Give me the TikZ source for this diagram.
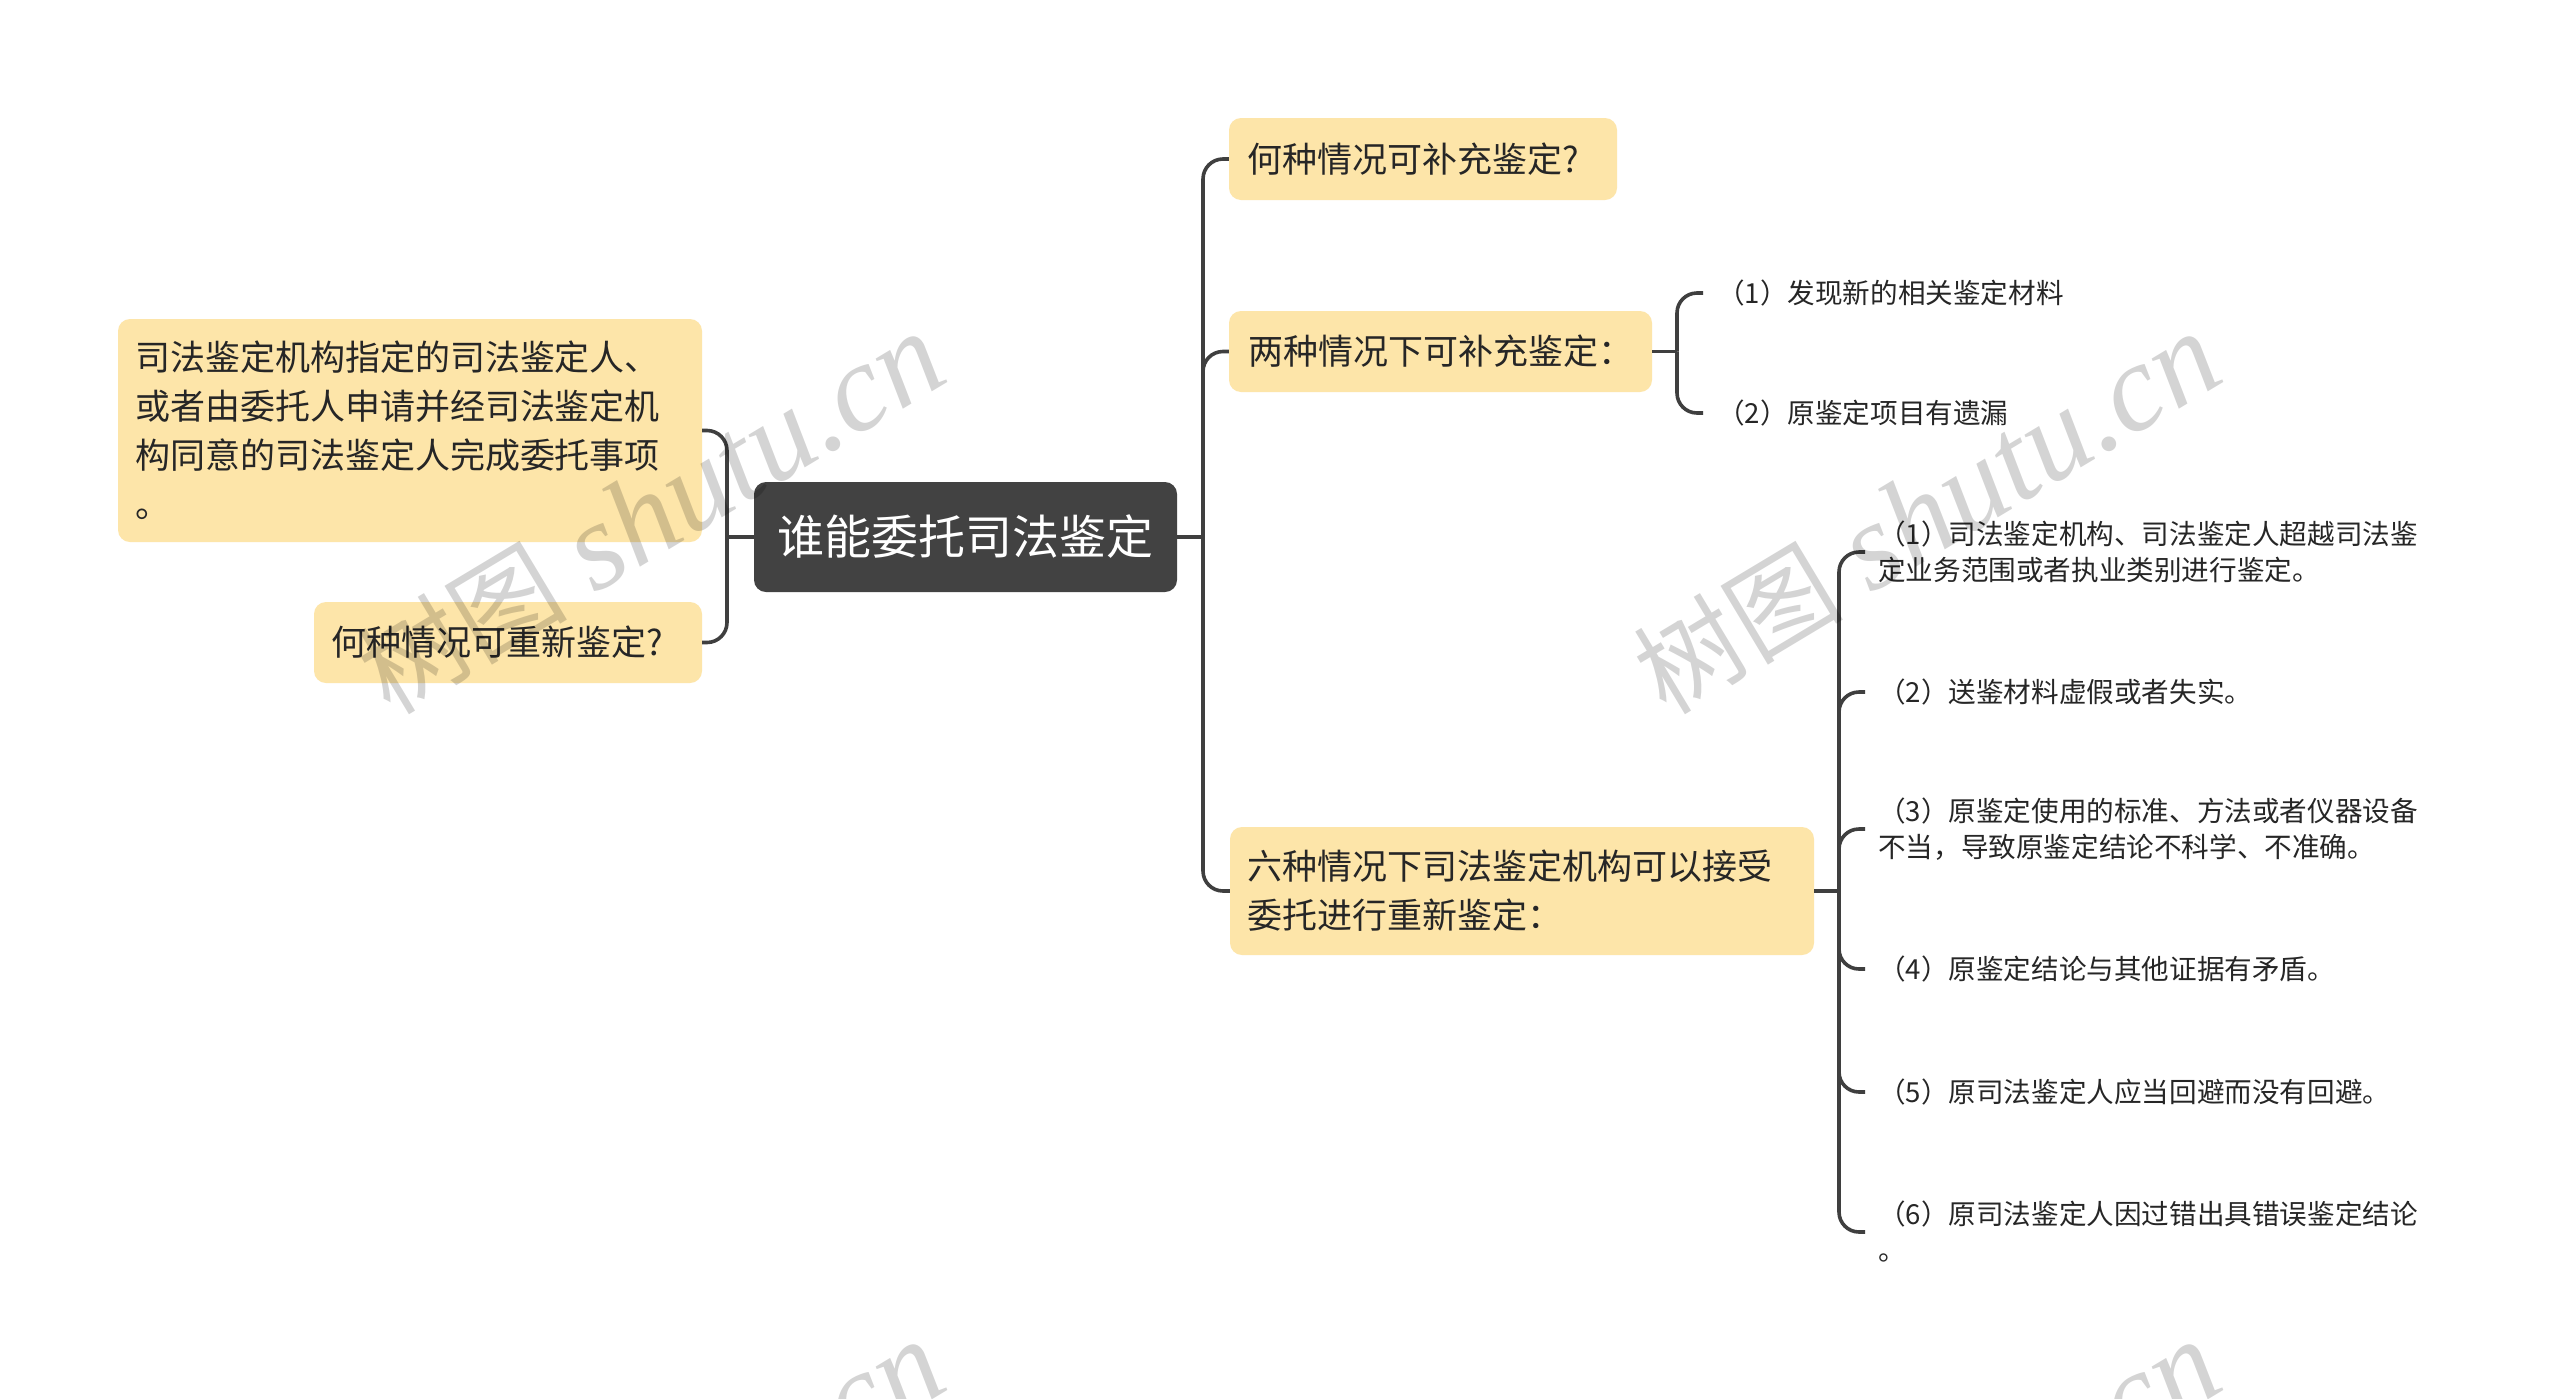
\documentclass[tikz,border=0pt]{standalone}
\usepackage{fontspec}
\setmainfont{Noto Sans CJK SC}
\newfontfamily\wmcjk{Noto Sans CJK SC}
\newfontfamily\wmlatin{Liberation Serif}
\definecolor{boxy}{HTML}{FDE5A9}
\definecolor{rootc}{HTML}{424242}
\definecolor{linec}{HTML}{3F3F3F}
\definecolor{txt}{HTML}{262626}
\tikzset{
  conn/.style={draw=linec, line width=3.6pt, rounded corners=20pt},
  topic/.style={fill=boxy, rounded corners=12pt, inner xsep=17pt, inner ysep=0pt,
    align=left, text=txt, font=\fontsize{35}{49}\selectfont},
  rootnode/.style={fill=rootc, rounded corners=12pt, text=white, inner sep=0pt,
    font=\fontsize{47}{56}\selectfont, minimum width=423pt, minimum height=110pt},
  leaf/.style={anchor=west, inner xsep=13pt, inner ysep=0pt, align=left, text=txt,
    font=\fontsize{27.6}{36}\selectfont},
  wm/.style={text=black, text opacity=0.17, rotate=31, inner sep=0pt}
}
\begin{document}
\begin{tikzpicture}[x=1pt,y=-1pt]
\fill[white] (0,0) rectangle (2560,1398);
\useasboundingbox (0,0) rectangle (2560,1398);

% root
\node[rootnode] (C) at (965.5,537) {谁能委托司法鉴定};

% left topics
\node[topic, text width=550pt, minimum height=223pt] (L1) at (410,430.5)
  {司法鉴定机构指定的司法鉴定人、\\或者由委托人申请并经司法鉴定机\\构同意的司法鉴定人完成委托事项\\。};
\node[topic, text width=354pt, minimum height=81pt] (L2) at (508,642.5) {何种情况可重新鉴定?};

% right topics
\node[topic, inner xsep=18pt, text width=352pt, minimum height=82pt] (R1) at (1423,159) {何种情况可补充鉴定?};
\node[topic, inner xsep=19pt, text width=385pt, minimum height=81pt] (R2) at (1440.5,351.5) {两种情况下可补充鉴定：};
\node[topic, text width=550pt, minimum height=128pt] (R3) at (1522,891)
  {六种情况下司法鉴定机构可以接受\\委托进行重新鉴定：};

% leaves of R2
\node[leaf, inner xsep=14pt] (a1) at (1703,293) {（1）发现新的相关鉴定材料};
\node[leaf, inner xsep=14pt] (a2) at (1703,413) {（2）原鉴定项目有遗漏};

% leaves of R3
\node[leaf] (c1) at (1865,552) {（1）司法鉴定机构、司法鉴定人超越司法鉴\\定业务范围或者执业类别进行鉴定。};
\node[leaf] (c2) at (1865,692) {（2）送鉴材料虚假或者失实。};
\node[leaf] (c3) at (1865,829) {（3）原鉴定使用的标准、方法或者仪器设备\\不当，导致原鉴定结论不科学、不准确。};
\node[leaf] (c4) at (1865,969) {（4）原鉴定结论与其他证据有矛盾。};
\node[leaf] (c5) at (1865,1092) {（5）原司法鉴定人应当回避而没有回避。};
\node[leaf] (c6) at (1865,1232) {（6）原司法鉴定人因过错出具错误鉴定结论\\。};

% junctions
\coordinate (bL) at (727,537);
\coordinate (bR) at (1203,537);
\coordinate (b2) at (1677,351.5);
\coordinate (b3) at (1839,891);

% connectors
\draw[conn] (C.west) -- (bL);
\foreach \n in {L1,L2} \draw[conn] (bL) -- (bL |- \n.east) -- (\n.east);
\draw[conn] (C.east) -- (bR);
\foreach \n in {R1,R2,R3} \draw[conn] (bR) -- (bR |- \n.west) -- (\n.west);
\draw[conn] (R2.east) -- (b2);
\foreach \n in {a1,a2} \draw[conn] (b2) -- (b2 |- \n.west) -- (\n.west);
\draw[conn] (R3.east) -- (b3);
\foreach \n in {c1,c2,c3,c4,c5,c6} \draw[conn] (b3) -- (b3 |- \n.west) -- (\n.west);

% watermarks
\begin{scope}
\clip (0,0) rectangle (2560,1398);
\foreach \wx/\wy [count=\i] in {651/514, 1927/514, 651/1522, 1927/1522}
  \node[wm] (w\i) at (\wx,\wy) {{\fontsize{105}{105}\wmcjk\selectfont 树图}\hspace{28pt}{\fontsize{124}{124}\wmlatin\itshape\selectfont shutu.cn}};
\end{scope}
\end{tikzpicture}
\end{document}
